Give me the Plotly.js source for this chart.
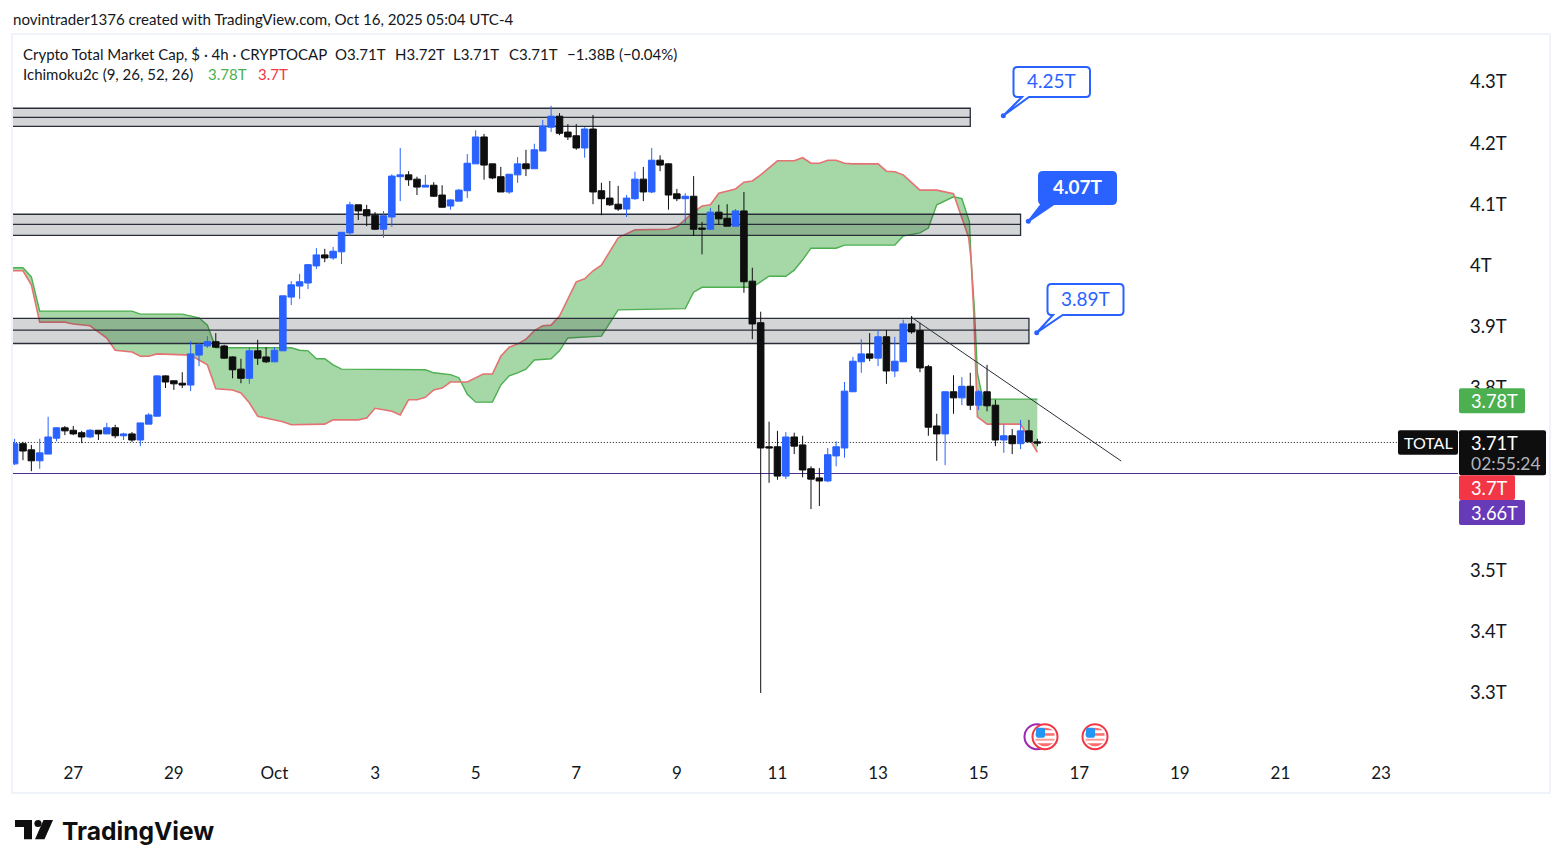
<!DOCTYPE html>
<html><head><meta charset="utf-8">
<script src="https://cdn.plot.ly/plotly-3.0.1.min.js"></script>
<style>html,body{margin:0;padding:0;background:#fff}#chart{width:1563px;height:868px}</style>
</head><body><div id="chart"></div>
<script>
// Candles, 4h, values in trillions of USD. Slot 0 = Sep 27.
const firstSlot = -7;
const openT = [3.675,3.708,3.698,3.680,3.691,3.717,3.734,3.730,3.726,3.719,3.730,3.724,3.734,3.721,3.724,3.714,3.740,3.753,3.819,3.811,3.807,3.804,3.853,3.868,3.875,3.868,3.850,3.830,3.815,3.860,3.850,3.842,3.860,3.948,3.966,3.971,3.999,4.017,4.012,4.022,4.053,4.099,4.091,4.082,4.059,4.079,4.145,4.148,4.141,4.128,4.131,4.115,4.097,4.105,4.122,4.166,4.210,4.166,4.145,4.120,4.148,4.166,4.158,4.187,4.226,4.244,4.218,4.212,4.192,4.223,4.122,4.110,4.100,4.092,4.109,4.141,4.120,4.172,4.166,4.117,4.109,4.113,4.061,4.059,4.087,4.077,4.064,4.089,3.974,3.906,3.703,3.703,3.655,3.719,3.706,3.667,3.652,3.647,3.688,3.701,3.793,3.842,3.855,3.848,3.883,3.827,3.842,3.904,3.893,3.834,3.737,3.724,3.793,3.783,3.802,3.771,3.793,3.771,3.714,3.721,3.708,3.729,3.711];
const highT = [3.716,3.711,3.706,3.716,3.752,3.735,3.737,3.737,3.729,3.732,3.730,3.742,3.739,3.726,3.727,3.742,3.758,3.820,3.820,3.811,3.825,3.876,3.873,3.884,3.889,3.870,3.851,3.847,3.865,3.878,3.866,3.866,3.950,3.974,3.986,4.002,4.028,4.027,4.030,4.054,4.104,4.099,4.099,4.087,4.089,4.149,4.192,4.154,4.145,4.148,4.136,4.131,4.108,4.125,4.182,4.221,4.215,4.166,4.161,4.149,4.177,4.189,4.199,4.238,4.261,4.249,4.231,4.231,4.226,4.246,4.135,4.138,4.130,4.115,4.153,4.161,4.192,4.180,4.167,4.125,4.118,4.146,4.071,4.094,4.099,4.100,4.092,4.120,3.996,3.924,3.744,3.729,3.727,3.726,3.721,3.671,3.668,3.701,3.712,3.809,3.850,3.879,3.889,3.894,3.894,3.883,3.911,3.917,3.906,3.837,3.757,3.793,3.820,3.817,3.824,3.796,3.837,3.780,3.739,3.732,3.747,3.747,3.716];
const lowT = [3.673,3.681,3.663,3.667,3.691,3.712,3.722,3.722,3.709,3.717,3.714,3.724,3.717,3.714,3.711,3.704,3.740,3.753,3.799,3.796,3.799,3.794,3.835,3.865,3.865,3.847,3.815,3.807,3.806,3.837,3.840,3.842,3.860,3.935,3.945,3.961,3.994,4.005,4.009,4.002,4.048,4.074,4.064,4.058,4.045,4.063,4.105,4.130,4.115,4.128,4.112,4.094,4.091,4.105,4.110,4.166,4.140,4.141,4.120,4.117,4.135,4.146,4.158,4.187,4.218,4.213,4.205,4.189,4.176,4.100,4.082,4.097,4.089,4.079,4.107,4.105,4.118,4.154,4.091,4.105,4.068,4.048,4.018,4.058,4.066,4.064,4.064,3.955,3.879,3.300,3.644,3.649,3.650,3.691,3.653,3.601,3.606,3.645,3.671,3.685,3.793,3.824,3.843,3.835,3.806,3.817,3.842,3.888,3.825,3.721,3.680,3.673,3.757,3.771,3.763,3.763,3.761,3.704,3.693,3.691,3.699,3.711,3.704];
const closeT = [3.708,3.696,3.680,3.693,3.719,3.734,3.729,3.724,3.719,3.730,3.724,3.734,3.721,3.724,3.714,3.742,3.755,3.819,3.809,3.806,3.804,3.855,3.870,3.875,3.866,3.848,3.829,3.815,3.860,3.848,3.842,3.861,3.950,3.968,3.973,4.001,4.017,4.012,4.023,4.054,4.099,4.089,4.081,4.059,4.081,4.146,4.148,4.140,4.128,4.131,4.113,4.095,4.107,4.123,4.167,4.210,4.164,4.143,4.120,4.149,4.166,4.158,4.189,4.228,4.244,4.216,4.210,4.192,4.223,4.120,4.109,4.099,4.092,4.110,4.141,4.120,4.172,4.164,4.115,4.109,4.113,4.059,4.059,4.087,4.076,4.064,4.089,3.973,3.904,3.701,3.701,3.655,3.719,3.704,3.665,3.650,3.647,3.690,3.703,3.794,3.843,3.855,3.848,3.883,3.827,3.843,3.904,3.891,3.832,3.735,3.724,3.793,3.783,3.802,3.771,3.793,3.770,3.714,3.721,3.708,3.729,3.711,3.709];

// Ichimoku cloud vertices
const spanASlot = [-8,-6,-5,-4,7,8,13,15,16,17,26,27,28,29,30,31,32,37,38,42,43,45,46,47,48,50,51,52,53,54,55,57,58,59,63,65,73,74,75,81,83,85,86,87,88,91,92,98,99,101,102,103,105,106,106.9,107.1,107.5,107.85,108.5,115];
const spanAT = [3.996,3.996,3.981,3.925,3.925,3.920,3.920,3.914,3.902,3.865,3.865,3.861,3.860,3.847,3.847,3.837,3.830,3.830,3.829,3.829,3.824,3.821,3.816,3.789,3.776,3.776,3.804,3.819,3.824,3.830,3.845,3.847,3.860,3.881,3.884,3.927,3.929,3.956,3.964,3.964,3.982,3.982,3.992,4.009,4.028,4.028,4.033,4.033,4.048,4.053,4.061,4.099,4.112,4.109,4.071,4.009,3.927,3.824,3.781,3.781];
const spanBSlot = [-8,-6,-5,-4,-1,0,2,3,4,5,7,8,9,10,14,15,16,17,19,20,21,22,24,25,26,30,31,34,35,36,38,39,40,41,42,43,44,45,47,48.9,50,51,52,53,54,55,56,57,58,60,61,62,63,65,67,71,72,74,75,76,77,79,80,81,82,84,86,87,88,89,90,91,92,93,96,97,98,99,101,103,105,106,106.8,107.1,107.4,107.85,109,113,115];
const spanBT = [3.991,3.991,3.968,3.907,3.907,3.904,3.901,3.891,3.881,3.861,3.858,3.851,3.851,3.855,3.853,3.845,3.837,3.798,3.796,3.791,3.775,3.753,3.747,3.744,3.739,3.740,3.747,3.747,3.750,3.766,3.761,3.755,3.780,3.780,3.784,3.796,3.799,3.809,3.809,3.822,3.822,3.851,3.866,3.871,3.879,3.893,3.901,3.902,3.917,3.973,3.978,3.991,4.000,4.045,4.058,4.059,4.063,4.087,4.097,4.099,4.118,4.125,4.136,4.138,4.148,4.171,4.171,4.176,4.167,4.167,4.172,4.172,4.167,4.166,4.166,4.154,4.153,4.148,4.123,4.123,4.117,4.077,4.046,4.009,3.927,3.752,3.740,3.740,3.694];

// Drawn zones
const zoneTop = [4.257,4.0835,3.913];
const zoneMid = [4.242,4.067,3.894];
const zoneBottom = [4.2275,4.049,3.872];
const zoneEndSlot = [107,113,114];
const trendSlots = [99.93,125];
const trendT = [3.9154,3.6797];
const lastPriceT = 3.71;
const supportT = 3.6592;

// Axes
const dayTickSlots = [0,12,24,36,48,60,72,84,96,108,120,132,144,156];
const dayTickLabels = ['27','29','Oct','3','5','7','9','11','13','15','17','19','21','23'];
const priceTicks = [3.3,3.4,3.5,3.6,3.7,3.8,3.9,4.0,4.1,4.2,4.3];
const priceTickLabels = ['3.3T','3.4T','3.5T','','','3.8T','3.9T','4T','4.1T','4.2T','4.3T'];

const FONT = 'Lato, "Noto Sans", sans-serif';
const INK = '#131722', BLUE = '#2962ff';
const PL = 13, PR = 1458, PT = 35, PB = 755;
const fx = p => (p-PL)/(PR-PL), fy = p => 1-(p-PT)/(PB-PT);
const P = (x,y) => fx(x)+','+fy(y);

const yRange = [3.1985,4.3769], xRange = [-7.19,165.18];
const slots = openT.map((_,i)=>i+firstSlot);

const traces = [];
// cloud (base layer)
traces.push({type:'scatter',mode:'lines',x:spanASlot,y:spanAT,line:{color:'#4caf50',width:1.4},opacity:0.9,hoverinfo:'skip'});
traces.push({type:'scatter',mode:'lines',x:spanBSlot,y:spanBT,line:{color:'#e57373',width:1.6},fill:'tonexty',fillcolor:'rgba(76,175,80,0.5)',hoverinfo:'skip'});
// zones, price lines (over the cloud, under the candles)
zoneTop.forEach((t,i)=>{
  traces.push({type:'scatter',mode:'lines',yaxis:'y2',x:[-9,zoneEndSlot[i],zoneEndSlot[i],-9],y:[t,t,zoneBottom[i],zoneBottom[i]],
    line:{color:'#2a2e39',width:1.3},fill:'toself',fillcolor:'rgba(42,46,57,0.2)',hoverinfo:'skip'});
  traces.push({type:'scatter',mode:'lines',yaxis:'y2',x:[-9,zoneEndSlot[i]],y:[zoneMid[i],zoneMid[i]],line:{color:'#2a2e39',width:1.3},hoverinfo:'skip'});
});
traces.push({type:'scatter',mode:'lines',yaxis:'y2',x:[-9,157.95],y:[lastPriceT,lastPriceT],line:{color:'#131722',width:1,dash:'1px 2px'},hoverinfo:'skip'});
traces.push({type:'scatter',mode:'lines',yaxis:'y2',x:[-9,166],y:[supportT,supportT],line:{color:'#4f2f96',width:1},hoverinfo:'skip'});
// candles + trend line on top
traces.push({type:'candlestick',yaxis:'y3',x:slots,open:openT,high:highT,low:lowT,close:closeT,whiskerwidth:0,
  increasing:{line:{color:BLUE,width:1},fillcolor:BLUE},decreasing:{line:{color:'#0e0e0e',width:1},fillcolor:'#0e0e0e'},hoverinfo:'skip'});
traces.push({type:'scatter',mode:'lines',yaxis:'y3',x:trendSlots,y:trendT,line:{color:'#2a2e39',width:1},hoverinfo:'skip'});

const shapes = [], annotations = [];
const path = (d,fill,line,lw) => shapes.push({type:'path',xref:'paper',yref:'paper',layer:'above',path:d,fillcolor:fill||'rgba(0,0,0,0)',line:{color:line||'rgba(0,0,0,0)',width:lw||0}});
const rect = (l,t,r,b,fill,line,lw) => shapes.push({type:'rect',xref:'paper',yref:'paper',layer:'above',x0:fx(l),x1:fx(r),y0:fy(b),y1:fy(t),fillcolor:fill||'rgba(0,0,0,0)',line:{color:line||'rgba(0,0,0,0)',width:lw||0}});
const circle = (cx,cy,r,fill,line,lw) => shapes.push({type:'circle',xref:'paper',yref:'paper',layer:'above',x0:fx(cx-r),x1:fx(cx+r),y0:fy(cy+r),y1:fy(cy-r),fillcolor:fill,line:{color:line||'rgba(0,0,0,0)',width:lw||0}});
const rr = (l,t,r,b,c) => 'M'+P(l+c,t)+' L'+P(r-c,t)+' Q'+P(r,t)+' '+P(r,t+c)+' L'+P(r,b-c)+' Q'+P(r,b)+' '+P(r-c,b)+' L'+P(l+c,b)+' Q'+P(l,b)+' '+P(l,b-c)+' L'+P(l,t+c)+' Q'+P(l,t)+' '+P(l+c,t)+' Z';
const txt = (x,y,text,size,color,anchor,weight) => annotations.push({xref:'paper',yref:'paper',x:fx(x),y:fy(y),text:weight?'<b>'+text+'</b>':text,showarrow:false,xanchor:anchor||'left',yanchor:'middle',borderpad:0,borderwidth:0,font:{family:FONT,size:size,color:color||INK}});

// chart frame
rect(12,34,1550,793,null,'#f0f3fa',2);

// header text
txt(13,19.5,'novintrader1376 created with TradingView.com, Oct 16, 2025 05:04 UTC-4',15.1);
txt(23,53.5,'Crypto Total Market Cap, $ · 4h · CRYPTOCAP',15);
txt(335,53.5,'O3.71T',15); txt(395,53.5,'H3.72T',15); txt(453,53.5,'L3.71T',15); txt(509,53.5,'C3.71T',15);
txt(567,53.5,'−1.38B (−0.04%)',15);
txt(23,74,'Ichimoku2c (9, 26, 52, 26)',15);
txt(208,74,'3.78T',15,'#4caf50'); txt(258,74,'3.7T',15,'#f23645');

// callouts
const callout = (l,t,r,b,t1,t2,dx,dy,label,filled) => {
  const c = 4;
  const d = 'M'+P(l+c,t)+' L'+P(r-c,t)+' Q'+P(r,t)+' '+P(r,t+c)+' L'+P(r,b-c)+' Q'+P(r,b)+' '+P(r-c,b)+' L'+P(t2,b)+' L'+P(dx,dy)+' L'+P(t1,b)+' L'+P(l+c,b)+' Q'+P(l,b)+' '+P(l,b-c)+' L'+P(l,t+c)+' Q'+P(l,t)+' '+P(l+c,t)+' Z';
  path(d,filled?BLUE:'#ffffff',BLUE,2);
  circle(dx,dy,2.5,BLUE,BLUE,0);
  txt((l+r)/2,(t+b)/2-1.5,label,19,filled?'#ffffff':BLUE,'center',filled);
};
callout(1013.5,67,1090,97,1022,1029,1003.3,115.7,'4.25T',false);
callout(1039,172,1116,204,1041.7,1054,1028.3,221.3,'4.07T',true);
callout(1047.5,284,1123.5,315,1053,1062.7,1036.7,332.7,'3.89T',false);

// economic event icons
const flag = (cx,cy) => {
  circle(cx,cy,12.5,'#ffffff','#f23645',2);
  path('M'+P(cx-9.5,cy-3.5)+' L'+P(cx+9.5,cy-3.5)+' L'+P(cx+9.5,cy-1)+' L'+P(cx-9.5,cy-1)+' Z','#ff6b6b');
  path('M'+P(cx-1,cy-9)+' Q'+P(cx+5,cy-9)+' '+P(cx+8,cy-6.5)+' L'+P(cx-1,cy-6.5)+' Z','#ff6b6b');
  path('M'+P(cx-8,cy+6.5)+' L'+P(cx+8,cy+6.5)+' Q'+P(cx+4,cy+9.5)+' '+P(cx,cy+9.5)+' Q'+P(cx-4,cy+9.5)+' '+P(cx-8,cy+6.5)+' Z','#ff6b6b');
  path('M'+P(cx-9.5,cy+2)+' L'+P(cx+9.5,cy+2)+' L'+P(cx+9.5,cy+4)+' L'+P(cx-9.5,cy+4)+' Z','#ff9a9a');
  path(rr(cx-9,cy-9,cx,cy+1,2),'#2196f3');
};
circle(1037,736.7,12.5,'#ffffff','#9c27b0',2);
flag(1045,736.7);
flag(1095,736.7);

// price scale labels
const badge = (l,t,r,b,color) => path(rr(l,t,r,b,2),color);
badge(1459,388.3,1525,413.3,'#4caf50'); txt(1471,401,'3.78T',18.3,'#ffffff');
badge(1459,430.3,1546,475.3,'#0e0e0e'); txt(1471,442.5,'3.71T',18.3,'#ffffff'); txt(1471,463,'02:55:24',17.5,'#b2b5be');
badge(1459,475.3,1515,500,'#f23645'); txt(1471,487.5,'3.7T',18.3,'#ffffff');
badge(1459,500,1525,525,'#673ab7'); txt(1471,513,'3.66T',18.3,'#ffffff');
badge(1398,430.3,1458,454.7,'#0e0e0e'); txt(1428,442.5,'TOTAL',16,'#ffffff','center');

// TradingView logo
path('M'+P(15,820)+' L'+P(32,820)+' L'+P(32,839.3)+' L'+P(24,839.3)+' L'+P(24,827)+' L'+P(15,827)+' Z','#0f0f0f');
circle(38,823.5,3.6,'#0f0f0f');
path('M'+P(43.5,820)+' L'+P(53,820)+' L'+P(44.5,839.3)+' L'+P(35,839.3)+' Z','#0f0f0f');
annotations.push({xref:'paper',yref:'paper',x:fx(61),y:fy(831),text:'<b>TradingView</b>',showarrow:false,xanchor:'left',yanchor:'middle',borderpad:0,font:{family:'Inter, sans-serif',size:24.6,color:'#0f0f0f'}});

const hiddenY = {range:yRange,overlaying:'y',visible:false,anchor:'x',fixedrange:true};
const layout = {
  width:1563,height:868,margin:{l:PL,r:1563-PR,t:PT,b:868-PB},
  paper_bgcolor:'#ffffff',plot_bgcolor:'#ffffff',showlegend:false,hovermode:false,boxgap:0.22,boxgroupgap:0,
  xaxis:{type:'linear',range:xRange,tickmode:'array',tickvals:dayTickSlots,ticktext:dayTickLabels,showgrid:false,zeroline:false,showline:false,ticks:'',
    ticklabelstandoff:6,tickfont:{family:FONT,size:17,color:INK},rangeslider:{visible:false},fixedrange:true},
  yaxis:{type:'linear',range:yRange,side:'right',tickmode:'array',tickvals:priceTicks,ticktext:priceTickLabels,showgrid:false,zeroline:false,showline:false,ticks:'',
    ticklabelstandoff:11,tickfont:{family:FONT,size:18.5,color:INK},fixedrange:true},
  yaxis2:hiddenY,yaxis3:Object.assign({},hiddenY),
  shapes:shapes,annotations:annotations
};
Plotly.newPlot('chart',traces,layout,{staticPlot:true,displayModeBar:false,responsive:false});
</script></body></html>
